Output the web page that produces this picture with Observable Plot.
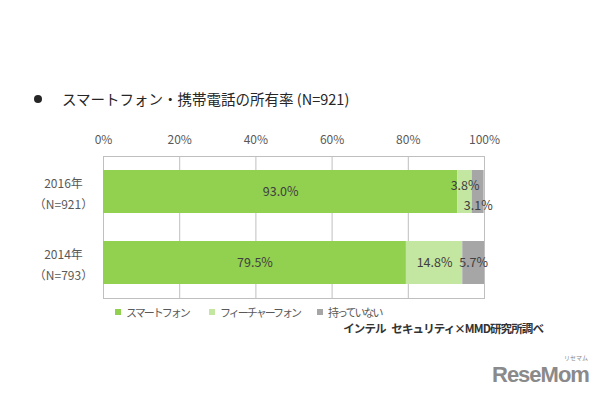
<!DOCTYPE html>
<html><head><meta charset="utf-8">
<script src="https://cdn.jsdelivr.net/npm/d3@7"></script>
<script src="https://cdn.jsdelivr.net/npm/@observablehq/plot@0.6"></script>
<style>
body{margin:0;background:#fff;font-family:"Noto Sans CJK JP","Noto Sans",sans-serif;}
#wrap{position:relative;width:600px;height:400px;overflow:hidden;}
#chart{position:absolute;left:0;top:0;}
.abs{position:absolute;white-space:nowrap;}
#title{left:34px;top:88px;font-size:14.5px;color:#262626;}
#title .dot{display:inline-block;width:8px;height:8px;border-radius:50%;background:#262626;margin-right:20px;vertical-align:2px;}
.leg{position:absolute;top:304px;font-size:11px;color:#595959;letter-spacing:-2px;white-space:nowrap;}
.leg i{display:inline-block;width:6px;height:6px;margin-right:5px;vertical-align:2px;}
#source{right:57px;top:320px;font-size:11.5px;font-weight:bold;color:#333;letter-spacing:-0.9px;word-spacing:4px;}
#logo{left:492px;top:362px;font-size:22px;font-weight:bold;color:#8a8a8a;font-family:"Liberation Sans",sans-serif;letter-spacing:-1px;}
#logo small{position:absolute;left:72px;top:-9px;font-size:6px;letter-spacing:0;font-family:"Noto Sans CJK JP";font-weight:normal;}
</style></head>
<body><div id="wrap">
<div id="chart"></div>
<div id="title" class="abs"><span class="dot"></span>スマートフォン・携帯電話の所有率 (N=921)</div>
<div id="legend"></div>
<div id="source" class="abs">インテル セキュリティ×MMD研究所調べ</div>
<div id="logo" class="abs">ReseMom<small>リセマム</small></div>
</div>
<script>
const years = ["2016年\n（N=921）", "2014年\n（N=793）"];
const types = ["スマートフォン", "フィーチャーフォン", "持っていない"];
const values2016 = [93.0, 3.8, 3.1];
const values2014 = [79.5, 14.8, 5.7];
const xTicks = [0, 20, 40, 60, 80, 100];
const colors = ["#92d050", "#c3e6a0", "#a6a6a6"];

const data = [];
[values2016, values2014].forEach((vals, yi) => {
  let cum = 0;
  vals.forEach((v, ti) => {
    data.push({year: years[yi], type: types[ti], value: v, ti, yi, mid: cum + v / 2});
    cum += v;
  });
});

// narrow 2016 segments get their labels nudged above / below the bar centre
const group = d => (d.yi === 0 && d.ti === 1) ? "up" : (d.yi === 0 && d.ti === 2) ? "down" : "mid";
const offsets = {mid: 0, up: -6, down: 14};

const chart = Plot.plot({
  width: 600, height: 400,
  marginLeft: 103, marginRight: 116, marginTop: 156, marginBottom: 102,
  style: {fontFamily: '"Noto Sans CJK JP","Noto Sans",sans-serif', fontSize: "12px", color: "#595959", background: "transparent"},
  x: {domain: [0, 100], axis: null, label: null},
  y: {domain: years, paddingInner: 0.4, paddingOuter: 0.2, axis: null, label: null},
  color: {domain: types, range: colors},
  marks: [
    Plot.ruleX(xTicks, {stroke: "#bfbfbf", strokeWidth: 1}),
    Plot.frame({stroke: "#bfbfbf"}),
    Plot.axisX({ticks: xTicks, anchor: "top", label: null, tickSize: 0, tickPadding: 13, tickFormat: d => d + "%", fill: "#595959", fontSize: 12}),
    Plot.axisY({anchor: "left", label: null, tickSize: 0, tickPadding: 40, textAnchor: "middle", lineHeight: 1.75, fill: "#595959", fontSize: 12}),
    Plot.barX(data, Plot.stackX({x: "value", y: "year", fill: "type", order: null})),
    ...Object.keys(offsets).map(g => Plot.text(data.filter(d => group(d) === g), {
      x: "mid", y: "year",
      text: d => d.value.toFixed(1) + "%",
      dy: offsets[g],
      fill: "#404040", fontSize: 12.5
    }))
  ]
});
document.getElementById("chart").appendChild(chart);

const legendX = [115, 209, 317];
const legend = document.getElementById("legend");
types.forEach((t, i) => {
  const s = document.createElement("span");
  s.className = "leg";
  s.style.left = legendX[i] + "px";
  s.innerHTML = `<i style="background:${colors[i]}"></i>${t}`;
  legend.appendChild(s);
});
</script>
</body></html>
